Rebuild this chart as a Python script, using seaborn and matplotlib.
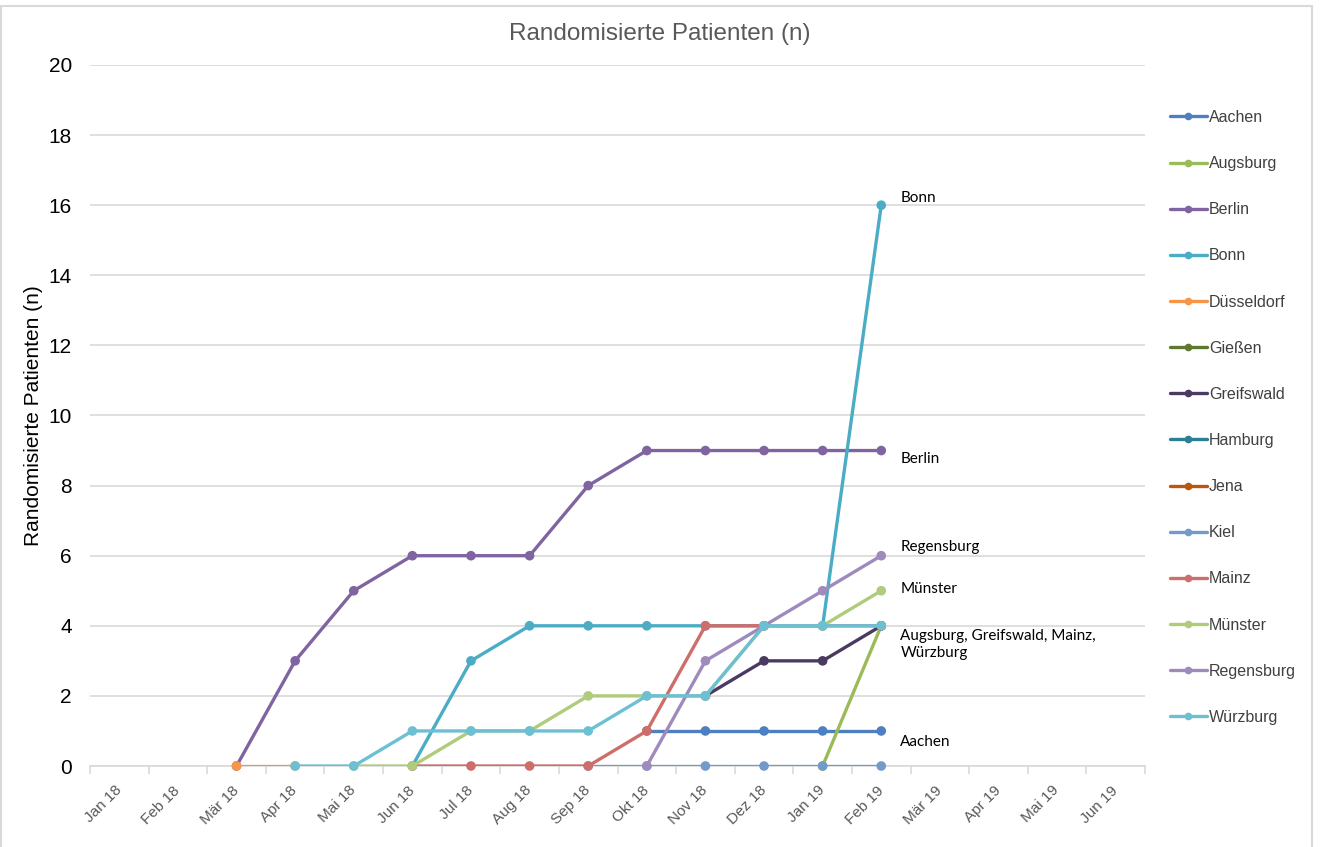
import numpy as np
import pandas as pd
import matplotlib
matplotlib.use("Agg")
import matplotlib.pyplot as plt
import seaborn as sns
from matplotlib.lines import Line2D
from matplotlib.patches import Rectangle

N = np.nan

# Monthly categories on the x axis
months = ["Jan 18", "Feb 18", "Mär 18", "Apr 18", "Mai 18", "Jun 18", "Jul 18",
          "Aug 18", "Sep 18", "Okt 18", "Nov 18", "Dez 18", "Jan 19", "Feb 19",
          "Mär 19", "Apr 19", "Mai 19", "Jun 19"]

# Cumulative randomised patients per centre (Jan 18 .. Feb 19)
aachen     = [N, N, N, N, N, N, N, N, N, 1, 1, 1, 1, 1]
augsburg   = [N, N, N, N, N, N, N, N, N, N, N, N, 0, 4]
berlin     = [N, N, 0, 3, 5, 6, 6, 6, 8, 9, 9, 9, 9, 9]
bonn       = [N, N, N, N, N, 0, 3, 4, 4, 4, 4, 4, 4, 16]
duesseldorf = [N, N, 0, 0, N, N, N, N, N, N, N, N, N, N]
giessen    = [N] * 14
greifswald = [N, N, N, N, N, N, N, N, N, N, 2, 3, 3, 4]
hamburg    = [N] * 14
jena       = [N] * 14
kiel       = [N, N, N, N, N, N, N, N, 0, 0, 0, 0, 0, 0]
mainz      = [N, N, N, N, N, 0, 0, 0, 0, 1, 4, 4, 4, 4]
muenster   = [N, N, N, N, 0, 0, 1, 1, 2, 2, 2, 4, 4, 5]
regensburg = [N, N, N, N, N, N, N, N, N, 0, 3, 4, 5, 6]
wuerzburg  = [N, N, N, 0, 0, 1, 1, 1, 1, 2, 2, 4, 4, 4]

centres = ["Aachen", "Augsburg", "Berlin", "Bonn", "Düsseldorf", "Gießen",
           "Greifswald", "Hamburg", "Jena", "Kiel", "Mainz", "Münster",
           "Regensburg", "Würzburg"]
series = [aachen, augsburg, berlin, bonn, duesseldorf, giessen, greifswald,
          hamburg, jena, kiel, mainz, muenster, regensburg, wuerzburg]
colors = ["#4E7FC0", "#9BBB59", "#8064A2", "#4BACC6", "#F79646", "#5F7A30",
          "#4A3A61", "#2D7F93", "#B9570A", "#729ACA", "#CD6E6B", "#AFCB7B",
          "#9F8ABD", "#6DC0D4"]

# Text labels at the end of the lines
end_labels = ["Bonn", "Berlin", "Regensburg", "Münster",
              "Augsburg, Greifswald, Mainz,\nWürzburg", "Aachen"]
end_values = [16, 9, 6, 5, 4, 1]
end_dy = [5.0, -6.0, 6.3, 1.2, -13.5, -8.0]

rows = []
for name, vals in zip(centres, series):
    padded = list(vals) + [N] * (len(months) - len(vals))
    for i, v in enumerate(padded):
        rows.append({"Zentrum": name, "pos": i, "n": v})
df = pd.DataFrame(rows)

sns.set_theme(style="white")
plt.rcParams["font.family"] = ["Liberation Sans", "DejaVu Sans"]

W, H = 1320, 847
fig = plt.figure(figsize=(W / 100, H / 100), dpi=100)
ax = fig.add_axes([90 / W, 81 / H, 1055 / W, 701 / H])

for i, (name, col) in enumerate(zip(centres, colors)):
    sub = df[df["Zentrum"] == name].dropna()
    if sub.empty:
        continue
    sns.lineplot(data=sub, x="pos", y="n", color=col, linewidth=2.4, ax=ax,
                 estimator=None, sort=False, legend=False, zorder=3 + 2 * i)
    sns.scatterplot(data=sub, x="pos", y="n", color=col, s=48, linewidth=0,
                    edgecolor="none", ax=ax, legend=False, clip_on=False,
                    zorder=4 + 2 * i)

ax.set_xlim(-0.5, len(months) - 0.5)
ax.set_ylim(0, 20)
ax.set_xlabel("")
ax.set_ylabel("Randomisierte Patienten (n)", fontsize=15, color="black")
ax.yaxis.set_label_coords(-0.045, 0.5)

ax.set_yticks(range(0, 21, 2))
ax.tick_params(axis="y", length=0, pad=13, labelsize=15, labelcolor="black")
ax.yaxis.grid(True, color="#D9D9D9", linewidth=1.2)
ax.xaxis.grid(False)
ax.set_axisbelow(True)

ax.set_xticks(range(len(months)))
ax.set_xticklabels(months, rotation=45, ha="right", va="center",
                   rotation_mode="anchor", fontsize=11, color="#595959")
ax.tick_params(axis="x", which="major", length=0, pad=16)
ax.set_xticks(np.arange(-0.5, len(months), 1), minor=True)
ax.tick_params(axis="x", which="minor", bottom=True, length=6, width=1.2,
               color="#D9D9D9", direction="out")

for side in ["top", "right", "left"]:
    ax.spines[side].set_visible(False)
ax.spines["bottom"].set_color("#D9D9D9")
ax.spines["bottom"].set_linewidth(1.2)

last = len(series[0]) - 1
for txt, val, dy in zip(end_labels, end_values, end_dy):
    ax.annotate(txt, xy=(last, val), xytext=(13.7, dy), textcoords="offset points",
                ha="left", va="center", fontsize=11, color="black",
                family=["Lato", "DejaVu Sans"], linespacing=1.3,
                annotation_clip=False)

fig.text(660 / W, 1 - 34 / H, "Randomisierte Patienten (n)", ha="center",
         va="center", fontsize=17.5, color="#595959")

handles = [Line2D([0], [0], color=c, linewidth=2.4, marker="o", markersize=5.5,
                  markeredgewidth=0) for c in colors]
fig.legend(handles, centres, loc="upper left",
           bbox_to_anchor=(1170 / W, 1 - 110 / H), frameon=False,
           fontsize=11.5, labelcolor="#404040", labelspacing=1.95,
           handlelength=2.3, handletextpad=0.15, borderpad=0, borderaxespad=0)

fig.add_artist(Rectangle((1 / W, -0.01), 1311 / W, 1 - 6 / H + 0.01,
                         transform=fig.transFigure, fill=False,
                         edgecolor="#D9D9D9", linewidth=1.5))

fig.savefig("out.png", dpi=100)
